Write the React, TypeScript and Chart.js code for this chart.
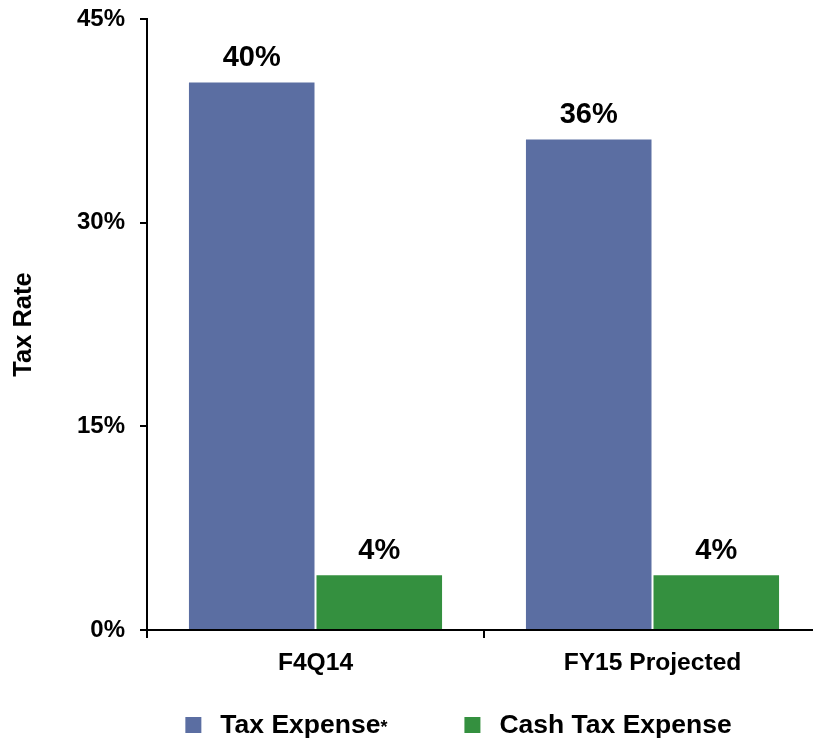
import React, { useEffect, useRef } from 'react';
import { Chart, registerables } from 'chart.js';

Chart.register(...registerables);

const categories = ['F4Q14', 'FY15 Projected'];
const seriesNames = ['Tax Expense*', 'Cash Tax Expense'];
const taxExpense = [40.4, 36.2];
const cashTaxExpense = [4.1, 4.1];
const seriesColors = ['#5B6EA2', '#34903F'];
const yMin = 0;
const yMax = 45;
const yStep = 15;

const FONT = '"Liberation Sans", Arial, Helvetica, sans-serif';

const dataLabels = {
  id: 'dataLabels',
  afterDatasetsDraw(chart: any) {
    const ctx = chart.ctx;
    ctx.save();
    ctx.font = `bold 29px ${FONT}`;
    ctx.fillStyle = '#000';
    ctx.textAlign = 'center';
    ctx.textBaseline = 'alphabetic';
    chart.data.datasets.forEach((ds: any, i: number) => {
      const meta = chart.getDatasetMeta(i);
      meta.data.forEach((el: any, j: number) => {
        const v = ds.data[j];
        ctx.fillText(`${Math.round(v)}%`, el.x, el.y - 15);
      });
    });
    ctx.restore();
  },
};

const customLegend = {
  id: 'customLegend',
  afterDraw(chart: any, _args: any, opts: any) {
    const ctx = chart.ctx;
    const box = 16;
    const gap = 19;
    const spacing = 77;
    const mainFont = `bold 26.5px ${FONT}`;
    const supFont = `bold 18px ${FONT}`;
    ctx.save();
    const items = chart.data.datasets.map((ds: any) => {
      const label: string = ds.label;
      const hasStar = label.endsWith('*');
      const main = hasStar ? label.slice(0, -1) : label;
      ctx.font = mainFont;
      const mw = ctx.measureText(main).width;
      ctx.font = supFont;
      const sw = hasStar ? ctx.measureText('*').width : 0;
      return { main, hasStar, mw, sw, color: ds.backgroundColor, width: box + gap + mw + sw };
    });
    const total = items.reduce((a: number, it: any) => a + it.width, 0) + spacing * (items.length - 1);
    let x = opts.centerX - total / 2;
    const baseline = opts.baseline;
    items.forEach((it: any) => {
      ctx.fillStyle = it.color;
      ctx.fillRect(x, baseline - box, box, box);
      ctx.fillStyle = '#000';
      ctx.textAlign = 'left';
      ctx.textBaseline = 'alphabetic';
      ctx.font = mainFont;
      ctx.fillText(it.main, x + box + gap, baseline);
      if (it.hasStar) {
        ctx.font = supFont;
        ctx.fillText('*', x + box + gap + it.mw, baseline);
      }
      x += it.width + spacing;
    });
    ctx.restore();
  },
};

export default function App() {
  const canvasRef = useRef<HTMLCanvasElement | null>(null);

  useEffect(() => {
    if (!canvasRef.current) return;
    Chart.defaults.font.family = FONT;
    Chart.defaults.color = '#000';
    const chart = new Chart(canvasRef.current, {
      type: 'bar',
      data: {
        labels: categories,
        datasets: [
          {
            label: seriesNames[0],
            data: taxExpense,
            backgroundColor: seriesColors[0],
            borderColor: 'rgba(255,255,255,0.55)',
            borderWidth: 1,
            categoryPercentage: 0.757,
            barPercentage: 1,
          },
          {
            label: seriesNames[1],
            data: cashTaxExpense,
            backgroundColor: seriesColors[1],
            borderColor: 'rgba(255,255,255,0.55)',
            borderWidth: 1,
            categoryPercentage: 0.757,
            barPercentage: 1,
          },
        ],
      },
      options: {
        animation: false,
        responsive: true,
        maintainAspectRatio: false,
        layout: { padding: { top: 19, right: 9, bottom: 0, left: 0 } },
        plugins: {
          legend: { display: false },
          tooltip: { enabled: false },
          customLegend: { centerX: 458.5, baseline: 733 },
        } as any,
        scales: {
          x: {
            grid: {
              display: true,
              drawOnChartArea: false,
              drawTicks: true,
              tickLength: 8,
              color: '#000',
              lineWidth: 2,
              offset: true,
            },
            border: { display: true, color: '#000', width: 2 },
            ticks: {
              color: '#000',
              font: { size: 24.6, weight: 'bold' },
              padding: 10,
            },
            afterFit: (s: any) => {
              s.height = 109;
            },
          },
          y: {
            min: yMin,
            max: yMax,
            ticks: {
              stepSize: yStep,
              color: '#000',
              font: { size: 24, weight: 'bold', lineHeight: 0.3 },
              padding: 15,
              callback: (v: any) => `${v}%`,
            },
            grid: {
              display: true,
              drawOnChartArea: false,
              drawTicks: true,
              tickLength: 7,
              color: '#000',
              lineWidth: 2,
            },
            border: { display: true, color: '#000', width: 2 },
            title: {
              display: true,
              text: 'Tax Rate',
              color: '#000',
              font: { size: 25.5, weight: 'bold' },
              padding: { top: 9, bottom: 0 },
            },
            afterFit: (s: any) => {
              s.width = 147;
            },
          },
        },
      },
      plugins: [dataLabels, customLegend],
    });
    return () => chart.destroy();
  }, []);

  return (
    <div style={{ position: 'absolute', left: 0, top: 0, width: 813, height: 739, overflow: 'hidden', background: '#fff' }}>
      <div style={{ position: 'relative', width: 830, height: 739 }}>
        <canvas ref={canvasRef} />
      </div>
    </div>
  );
}
